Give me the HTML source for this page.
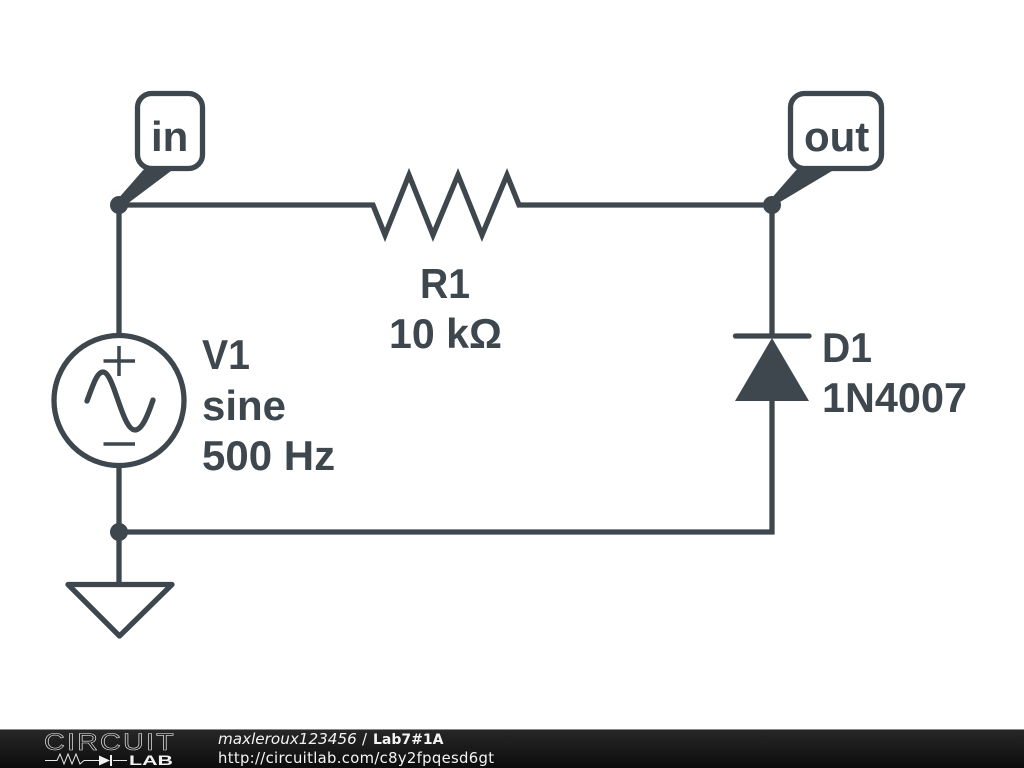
<!DOCTYPE html>
<html>
<head>
<meta charset="utf-8">
<style>
html,body{margin:0;padding:0;background:#fff;width:1024px;height:768px;overflow:hidden}
svg{display:block}
</style>
</head>
<body>
<svg xmlns="http://www.w3.org/2000/svg" width="1024" height="768" viewBox="0 0 1024 768">
<defs>
<linearGradient id="b" x1="0" y1="0" x2="0" y2="1">
<stop offset="0" stop-color="#282828"/>
<stop offset="0.5" stop-color="#1a1a1a"/>
<stop offset="1" stop-color="#0c0c0c"/>
</linearGradient>
</defs>
<rect width="1024" height="768" fill="#fff"/>
<g fill="none" stroke="#3d474d" stroke-width="5.300" stroke-linejoin="miter">
<path d="M119 205H373L385 235L409 175L433 235L458 175L482 235L507 175L519 205H772V336"/>
<path d="M772 400V532H119V584"/>
<path d="M119 205V335M119 466V532"/>
<circle cx="119" cy="400.500" r="65"/>
<path d="M68 584.500H172L119.500 636Z" stroke-linejoin="round"/>
<rect x="137.500" y="93.500" width="65" height="75" rx="14" ry="14"/>
<rect x="790.500" y="93.500" width="91" height="75" rx="14" ry="14"/>
<path d="M735.500 336H809" stroke-linecap="round"/>
<path d="M87 401C93 385 97 372 103 372C114 372 122 430 135 430C142 430 148 415 153 400" stroke-linecap="round"/>
</g>
<g fill="none" stroke="#3d474d" stroke-width="3.500">
<path d="M103.500 361H135M119 346V376M103.500 444H135"/>
</g>
<g fill="#3d474d">
<path d="M772 338L809 401H735Z"/>
<circle cx="119" cy="205" r="9"/>
<circle cx="772" cy="205" r="9"/>
<circle cx="119" cy="532" r="9"/>
<path d="M117 200L145 168H175L127 204Z"/>
<path d="M770 200L798 168H837L780 202Z"/>
</g>
<g font-family="'Liberation Sans',sans-serif" font-weight="700" font-size="42" fill="#3d474d">
<text x="151" y="151">in</text>
<text x="804" y="151">out</text>
<text x="420" y="298" textLength="50" lengthAdjust="spacingAndGlyphs">R1</text>
<text x="389" y="348" textLength="113" lengthAdjust="spacingAndGlyphs">10 kΩ</text>
<text x="202" y="369" textLength="48" lengthAdjust="spacingAndGlyphs">V1</text>
<text x="202" y="420">sine</text>
<text x="202" y="470">500 Hz</text>
<text x="822" y="362" textLength="50" lengthAdjust="spacingAndGlyphs">D1</text>
<text x="822" y="412" textLength="145" lengthAdjust="spacingAndGlyphs">1N4007</text>
</g>
<rect x="0" y="729" width="1024" height="39" fill="url(#b)"/>
<rect x="0" y="729" width="1024" height="1" fill="#8a8a8a"/>
<text transform="translate(44 750) scale(1.2 1)" x="0" y="0" font-family="'Liberation Sans',sans-serif" font-size="24" letter-spacing="1.800" fill="none" stroke="#e8e8e8" stroke-width="0.600">CIRCUIT</text>
<text x="129" y="765" font-family="'Liberation Sans',sans-serif" font-weight="700" font-size="14" textLength="44" lengthAdjust="spacingAndGlyphs" fill="#f2f2f2">LAB</text>
<path d="M45 760.500H57L60 754L64 764L68 754L72 764L76 754L80 764L84 760.500H100M113 760.500H127" fill="none" stroke="#e8e8e8" stroke-width="1"/>
<path d="M99 755.500L110 760.500L99 765.500Z" fill="#f2f2f2"/>
<path d="M111 755V766" stroke="#f2f2f2" stroke-width="2"/>
<g font-family="'DejaVu Sans',sans-serif" fill="#f4f4f4">
<text x="218" y="744" font-size="15.200" font-style="italic">maxleroux123456</text>
<text x="362" y="744" font-size="14.800">/</text>
<text x="373" y="744" font-size="14" font-weight="700">Lab7#1A</text>
<text x="218" y="763" font-size="14.800" textLength="276">http://circuitlab.com/c8y2fpqesd6gt</text>
</g>
</svg>
</body>
</html>
